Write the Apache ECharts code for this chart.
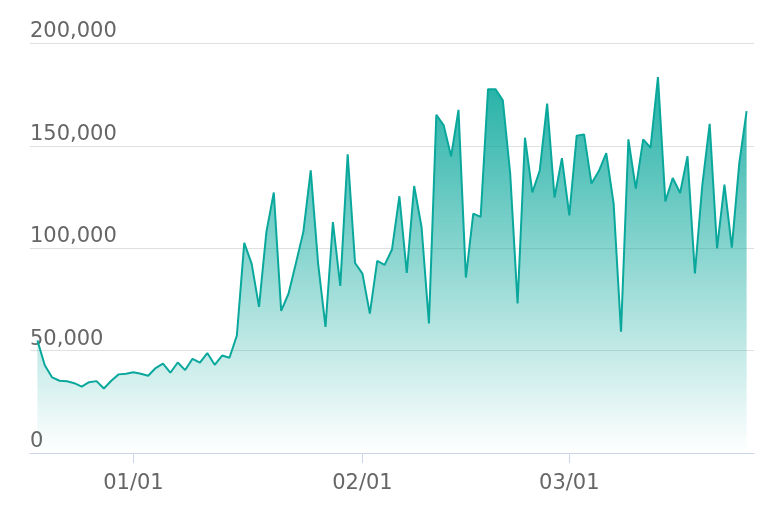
<!DOCTYPE html>
<html>
<head>
<meta charset="utf-8">
<script src="https://cdn.jsdelivr.net/npm/echarts@6/dist/echarts.min.js"></script>
<style>
html,body{margin:0;padding:0;background:#fff;}
#chart{width:774px;height:528px;}
</style>
</head>
<body>
<div id="chart"></div>
<script>
// First date of the series and daily values (one per day)
const startDate = '2022-12-19';
const values = [
  55000, 42900, 36900, 35300, 35000, 34100, 32400, 34600, 35100, 31500,
  35300, 38400, 38700, 39400, 38700, 37700, 41500, 43700, 39200, 44200,
  40500, 46000, 44100, 48800, 43100, 47600, 46500, 57400, 102600, 92500,
  71400, 108000, 127200, 69400, 77900, 92800, 108000, 138000, 92500, 61600,
  112800, 81600, 145900, 92800, 87600, 68100, 93800, 91900, 99400, 125400,
  87900, 130400, 110400, 63300, 165200, 160000, 144900, 167600, 85700, 116900,
  115300, 177700, 177700, 172200, 136400, 73000, 154000, 127300, 138000, 170600,
  124700, 144000, 116100, 155000, 155600, 131600, 137700, 146500, 121800, 59200,
  153200, 129100, 153200, 149100, 183600, 122900, 134300, 127000, 144900, 87700,
  130700, 160800, 99900, 131100, 100300, 141300, 167000
];
const axisMin = '2022-12-18';
const axisMax = '2023-03-26';
const yTicks = [0, 50000, 100000, 150000, 200000];

const DAY = 86400000;
const t0 = new Date(startDate + 'T00:00:00Z').getTime();
const seriesData = values.map((v, i) => [t0 + i * DAY, v]);

const chart = echarts.init(document.getElementById('chart'), null, {renderer: 'canvas'});
chart.setOption({
  animation: false,
  useUTC: true,
  grid: {left: 30, right: 20, top: 43.5, bottom: 75, containLabel: false},
  xAxis: {
    type: 'time',
    min: new Date(axisMin + 'T00:00:00Z').getTime(),
    max: new Date(axisMax + 'T00:00:00Z').getTime(),
    minInterval: 28 * DAY,
    maxInterval: 31 * DAY,
    axisLine: {lineStyle: {color: '#ccd6eb', width: 1}},
    axisTick: {show: true, length: 10, lineStyle: {color: '#ccd6eb'}},
    axisLabel: {
      formatter: '{MM}/{dd}',
      color: '#666666',
      fontSize: 21,
      fontFamily: 'DejaVu Sans',
      margin: 20
    },
    splitLine: {show: false}
  },
  yAxis: {
    type: 'value',
    min: yTicks[0],
    max: yTicks[yTicks.length - 1],
    interval: yTicks[1] - yTicks[0],
    axisLine: {show: false},
    axisTick: {show: false},
    axisLabel: {
      inside: true,
      verticalAlign: 'bottom',
      margin: 0,
      padding: [0, 0, 1, 0],
      color: '#666666',
      fontSize: 21,
      fontFamily: 'DejaVu Sans',
      formatter: v => v.toLocaleString('en-US')
    },
    splitLine: {lineStyle: {color: '#e0e0e0', width: 1}}
  },
  series: [{
    type: 'line',
    data: seriesData,
    showSymbol: false,
    lineStyle: {color: '#0aa89c', width: 2},
    itemStyle: {color: '#0aa89c'},
    areaStyle: {
      opacity: 1,
      color: new echarts.graphic.LinearGradient(0, 0, 0, 1, [
        {offset: 0, color: 'rgba(10,168,156,0.9)'},
        {offset: 1, color: 'rgba(10,168,156,0)'}
      ])
    }
  }]
});
</script>
</body>
</html>
